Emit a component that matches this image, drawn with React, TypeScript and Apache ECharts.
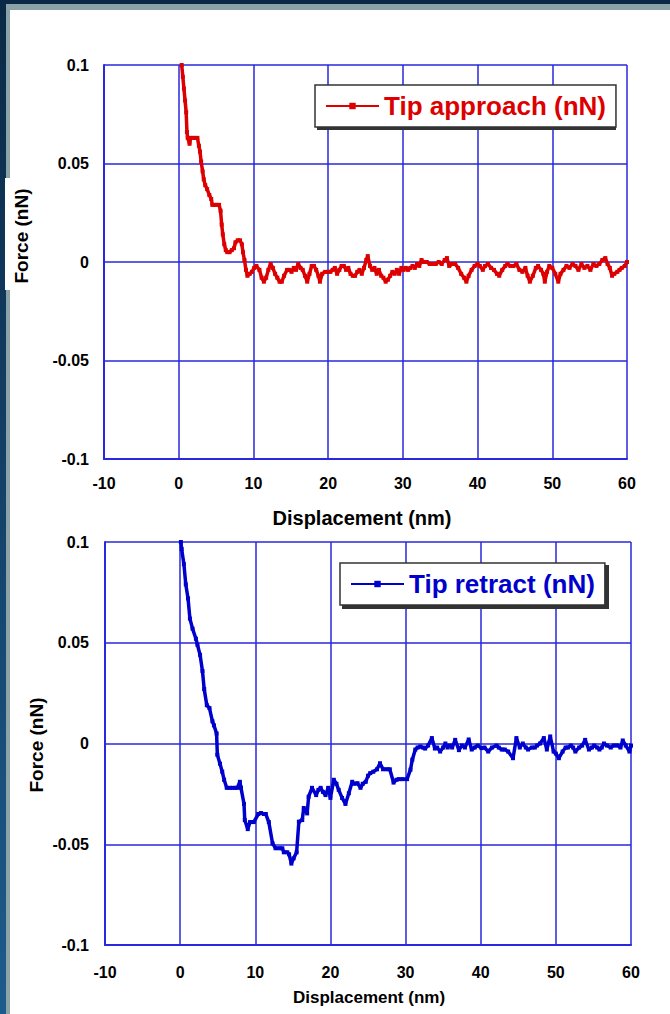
import React, { useEffect, useRef } from "react";
import * as echarts from "echarts";

// ---- data ----
const xRange = [-10, 60];
const xStep = 10;
const yRange = [-0.1, 0.1];
const yStep = 0.05;

const approachName = "Tip approach (nN)";
const retractName = "Tip retract (nN)";
const xTitle = "Displacement (nm)";
const yTitle = "Force (nN)";

// Tip approach: [displacement nm, force nN]
const approachPts: number[][] = [
  [0.4, 0.1], [0.55, 0.094], [0.7, 0.088], [0.85, 0.082], [1.0, 0.076], [1.1, 0.066], [1.2, 0.063],
  [1.45, 0.06], [1.6, 0.063], [1.9, 0.063], [2.2, 0.063], [2.5, 0.063], [2.7, 0.059], [2.85, 0.056],
  [3.0, 0.051], [3.2, 0.046], [3.35, 0.042], [3.55, 0.039], [3.8, 0.037], [4.1, 0.034], [4.35, 0.032],
  [4.5, 0.029], [4.8, 0.029], [5.1, 0.029], [5.4, 0.029], [5.6, 0.026], [5.75, 0.019], [5.9, 0.014],
  [6.1, 0.009], [6.3, 0.006], [6.5, 0.005], [6.8, 0.005], [7.1, 0.006], [7.4, 0.007], [7.6, 0.01],
  [7.9, 0.011], [8.2, 0.011], [8.45, 0.009], [8.6, 0.005], [8.8, 0.001], [9.0, -0.004], [9.2, -0.007],
  [9.5, -0.006], [9.8, -0.005], [10.1, -0.003], [10.4, -0.002], [10.8, -0.004], [11.1, -0.008],
  [11.4, -0.01], [11.7, -0.008], [12.0, -0.004], [12.3, -0.001], [12.6, -0.003], [12.9, -0.006],
  [13.2, -0.008], [13.5, -0.01], [13.8, -0.01], [14.1, -0.007], [14.5, -0.004], [14.8, -0.004],
  [15.1, -0.005], [15.4, -0.003], [15.7, -0.004], [16.0, -0.001], [16.3, -0.003], [16.6, -0.004],
  [16.9, -0.007], [17.2, -0.01], [17.5, -0.006], [17.8, -0.002], [18.1, -0.002], [18.4, -0.004],
  [18.7, -0.007], [18.9, -0.01], [19.2, -0.006], [19.6, -0.005], [20.0, -0.005], [20.3, -0.005],
  [20.6, -0.004], [20.9, -0.003], [21.2, -0.006], [21.5, -0.004], [21.8, -0.002], [22.1, -0.002],
  [22.4, -0.004], [22.7, -0.003], [23.0, -0.006], [23.3, -0.007], [23.6, -0.007], [23.9, -0.005],
  [24.2, -0.004], [24.5, -0.006], [24.8, -0.003], [25.1, 0.001], [25.3, 0.003], [25.6, -0.002],
  [25.9, -0.004], [26.2, -0.003], [26.5, -0.006], [26.8, -0.004], [27.1, -0.007], [27.4, -0.008],
  [27.7, -0.01], [28.0, -0.009], [28.3, -0.007], [28.6, -0.005], [28.9, -0.006], [29.2, -0.004],
  [29.5, -0.006], [29.8, -0.003], [30.1, -0.004], [30.4, -0.003], [30.7, -0.004], [31.0, -0.003],
  [31.3, -0.002], [31.6, -0.003], [31.9, -0.001], [32.2, -0.002], [32.5, 0.001], [32.8, 0.0],
  [33.2, 0.0], [33.6, -0.001], [34.0, -0.001], [34.4, -0.001], [34.8, 0.0], [35.2, -0.001],
  [35.6, 0.001], [35.9, 0.002], [36.2, -0.002], [36.6, -0.001], [37.0, -0.001], [37.4, -0.003],
  [37.8, -0.006], [38.2, -0.008], [38.5, -0.01], [38.8, -0.007], [39.2, -0.004], [39.6, -0.002],
  [40.0, -0.001], [40.3, -0.002], [40.7, -0.004], [41.0, -0.002], [41.4, -0.001], [41.8, -0.003],
  [42.2, -0.004], [42.6, -0.006], [42.9, -0.007], [43.3, -0.004], [43.7, -0.002], [44.0, -0.001],
  [44.4, -0.002], [44.8, -0.002], [45.2, -0.001], [45.6, -0.004], [46.0, -0.005], [46.4, -0.003],
  [46.7, -0.007], [47.0, -0.01], [47.4, -0.007], [47.8, -0.003], [48.1, -0.002], [48.5, -0.004],
  [48.8, -0.006], [49.0, -0.01], [49.3, -0.005], [49.6, -0.002], [50.0, -0.003], [50.4, -0.006],
  [50.8, -0.01], [51.1, -0.006], [51.5, -0.004], [51.9, -0.002], [52.3, -0.003], [52.7, -0.001],
  [53.1, -0.002], [53.5, -0.004], [53.9, -0.001], [54.3, -0.003], [54.7, -0.002], [55.1, -0.004],
  [55.5, -0.001], [55.9, -0.002], [56.3, -0.001], [56.7, 0.001], [57.1, 0.002], [57.4, -0.001],
  [57.7, -0.003], [58.0, -0.007], [58.3, -0.006], [58.7, -0.005], [59.0, -0.004], [59.3, -0.003],
  [59.7, -0.002], [60.0, 0.0],
];

// Tip retract: [displacement nm, force nN]
const retractPts: number[][] = [
  [0.1, 0.1], [0.2, 0.0965], [0.5, 0.089], [0.75, 0.079], [1.05, 0.072], [1.3, 0.062], [1.65, 0.057],
  [2.1, 0.052], [2.3, 0.049], [2.65, 0.044], [2.97, 0.036], [3.2, 0.027], [3.55, 0.019], [3.9, 0.0176],
  [4.3, 0.011], [4.5, 0.009], [4.85, 0.005], [4.95, -0.0056], [5.3, -0.01], [5.6, -0.014], [5.85, -0.018],
  [6.2, -0.022], [6.6, -0.022], [6.95, -0.022], [7.3, -0.022], [7.6, -0.022], [7.95, -0.019], [8.1, -0.022],
  [8.5, -0.03], [8.6, -0.038], [9.0, -0.0425], [9.3, -0.039], [9.8, -0.039], [10.4, -0.035], [10.75, -0.0345],
  [11.15, -0.035], [11.4, -0.035], [11.8, -0.039], [12.3, -0.0496], [12.7, -0.052], [13.2, -0.052],
  [13.6, -0.052], [13.8, -0.054], [14.26, -0.054], [14.5, -0.055], [14.8, -0.0596], [15.1, -0.057],
  [15.5, -0.054], [15.8, -0.0388], [16.25, -0.038], [16.45, -0.032], [16.9, -0.0347], [17.1, -0.0264],
  [17.55, -0.022], [18.1, -0.0256], [18.4, -0.023], [18.7, -0.022], [19.0, -0.024], [19.35, -0.0256],
  [19.7, -0.022], [20.0, -0.027], [20.45, -0.018], [20.8, -0.02], [21.1, -0.023], [21.55, -0.027],
  [22.0, -0.03], [22.45, -0.0247], [22.9, -0.019], [23.2, -0.02], [23.6, -0.0197], [24.0, -0.022],
  [24.3, -0.02], [24.7, -0.019], [25.0, -0.016], [25.3, -0.0147], [25.7, -0.014], [26.2, -0.0128],
  [26.6, -0.0098], [27.0, -0.0128], [27.5, -0.0128], [27.9, -0.0128], [28.4, -0.0194], [28.8, -0.018],
  [29.1, -0.0177], [29.6, -0.0177], [30.2, -0.0177], [30.65, -0.013], [30.9, -0.008], [31.3, -0.003],
  [31.6, -0.002], [31.96, -0.0015], [32.3, -0.002], [32.6, -0.0025], [33.0, -0.001], [33.5, 0.0027],
  [33.9, -0.0025], [34.2, -0.002], [34.6, -0.004], [35.0, -0.002], [35.3, 0.0], [35.6, -0.002],
  [35.9, -0.001], [36.2, -0.002], [36.6, 0.0018], [37.1, -0.0033], [37.5, -0.001], [37.9, -0.002],
  [38.4, 0.002], [38.8, -0.003], [39.2, -0.002], [39.6, -0.001], [40.1, -0.0023], [40.5, -0.002],
  [41.0, -0.004], [41.5, -0.002], [42.1, -0.001], [42.4, -0.002], [42.8, -0.003], [43.2, -0.003],
  [43.65, -0.004], [44.3, -0.0073], [44.75, 0.0027], [45.2, -0.002], [45.6, 0.0], [46.0, -0.002],
  [46.3, -0.003], [46.8, -0.002], [47.2, -0.002], [47.5, -0.001], [47.9, 0.0], [48.4, 0.0027],
  [48.8, -0.003], [49.25, 0.0035], [49.7, -0.004], [50.0, -0.005], [50.4, -0.0073], [50.9, -0.004],
  [51.3, -0.002], [51.6, -0.002], [52.0, -0.001], [52.3, -0.002], [52.6, -0.004], [53.1, -0.002],
  [53.5, -0.001], [53.9, 0.0018], [54.4, -0.003], [54.8, -0.002], [55.1, -0.001], [55.5, -0.002],
  [55.8, -0.003], [56.1, -0.002], [56.4, 0.0], [56.8, -0.001], [57.3, -0.002], [57.7, -0.001],
  [58.2, -0.001], [58.6, -0.002], [58.9, 0.0015], [59.3, -0.001], [59.8, -0.004], [60.0, -0.001],
];

// ---- styles ----
const FONT = '"Liberation Sans", Arial, Helvetica, sans-serif';
const GRID = "#2828dc";
const RED = "#dd0000";
const BLUE = "#0000cc";

function makeXAxis(gridIndex: number, fontSize: number, margin: number) {
  return {
    gridIndex,
    type: "value",
    min: xRange[0],
    max: xRange[1],
    interval: xStep,
    axisLine: { show: true, onZero: false, lineStyle: { color: GRID, width: 2 } },
    axisTick: { show: false },
    splitLine: { show: true, lineStyle: { color: GRID, width: 1.5 } },
    axisLabel: { color: "#000", fontFamily: FONT, fontWeight: "bold", fontSize, margin },
  };
}

function makeYAxis(gridIndex: number, fontSize: number, margin: number) {
  return {
    gridIndex,
    type: "value",
    min: yRange[0],
    max: yRange[1],
    interval: yStep,
    axisLine: { show: true, onZero: false, lineStyle: { color: GRID, width: 2 } },
    axisTick: { show: false },
    splitLine: { show: true, lineStyle: { color: GRID, width: 1.5 } },
    axisLabel: {
      color: "#000",
      fontFamily: FONT,
      fontWeight: "bold",
      fontSize,
      margin,
      formatter: (v: number) => String(Math.round(v * 1000) / 1000),
    },
  };
}

function makeSeries(name: string, data: number[][], color: string, idx: number) {
  return {
    name,
    type: "line",
    xAxisIndex: idx,
    yAxisIndex: idx,
    data,
    symbol: "rect",
    symbolSize: 4,
    showSymbol: true,
    clip: true,
    lineStyle: { color, width: 3.5 },
    itemStyle: { color },
  };
}

function makeLegend(name: string, color: string, left: number, top: number) {
  return {
    data: [name],
    left,
    top,
    orient: "horizontal",
    padding: [8, 10, 8, 10],
    itemWidth: 53,
    itemHeight: 8,
    itemGap: 5,
    backgroundColor: "#ffffff",
    borderColor: "#333333",
    borderWidth: 1.5,
    textStyle: { color, fontFamily: FONT, fontWeight: "bold", fontSize: 26 },
    selectedMode: false,
  };
}

function titleText(text: string, x: number, y: number, size: number, rotate: boolean) {
  return {
    type: "text",
    x,
    y,
    rotation: rotate ? Math.PI / 2 : 0,
    z: 10,
    style: {
      text,
      fill: "#000",
      fontFamily: FONT,
      fontWeight: "bold",
      fontSize: size,
      align: "center",
      verticalAlign: "middle",
    },
  };
}

export default function App() {
  const ref = useRef<HTMLDivElement>(null);

  useEffect(() => {
    if (!ref.current) return;
    const chart = echarts.init(ref.current, null, { renderer: "svg", width: 670, height: 1014 });
    const option: any = {
      animation: false,
      grid: [
        { left: 104, top: 65, width: 523, height: 394 },
        { left: 105, top: 542, width: 526, height: 403 },
      ],
      xAxis: [makeXAxis(0, 16, 16), makeXAxis(1, 16, 19)],
      yAxis: [makeYAxis(0, 16, 15), makeYAxis(1, 16, 16)],
      legend: [makeLegend(approachName, RED, 315, 85), makeLegend(retractName, BLUE, 340, 563)],
      series: [makeSeries(approachName, approachPts, RED, 0), makeSeries(retractName, retractPts, BLUE, 1)],
      graphic: [
        { type: "rect", shape: { x: 5, y: 178, width: 32, height: 112 }, style: { fill: "#ffffff" }, z: 1 },
        titleText(yTitle, 21, 236, 19, true),
        titleText(xTitle, 362, 518, 20, false),
        titleText(yTitle, 36, 745, 19, true),
        titleText(xTitle, 369, 997, 17, false),
        { type: "rect", shape: { x: 317, y: 87, width: 299, height: 43 }, style: { fill: "#333333" }, z: 1 },
        { type: "rect", shape: { x: 342, y: 565, width: 267, height: 44 }, style: { fill: "#333333" }, z: 1 },
      ],
    };
    chart.setOption(option);
    return () => chart.dispose();
  }, []);

  return (
    <div
      style={{
        position: "fixed",
        left: 0,
        top: 0,
        width: 670,
        height: 1014,
        overflow: "hidden",
        background: "linear-gradient(to bottom, #0b2946, #1d5b8c)",
      }}
    >
      <div style={{ position: "absolute", left: 6, top: 4, right: 0, bottom: 0, background: "#8ba3a7" }} />
      <div style={{ position: "absolute", left: 10, top: 10, right: 0, bottom: 0, background: "#ffffff" }} />
      <div ref={ref} style={{ position: "absolute", left: 0, top: 0, width: 670, height: 1014 }} />
    </div>
  );
}
